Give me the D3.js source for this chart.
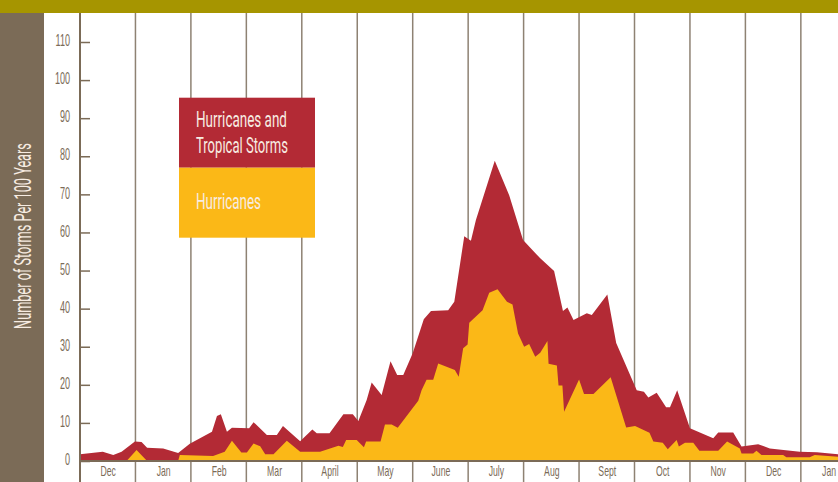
<!DOCTYPE html>
<html>
<head>
<meta charset="utf-8">
<script src="https://cdn.jsdelivr.net/npm/d3@7/dist/d3.min.js"></script>
<style>
  body { margin: 0; background: #fff; }
  svg { display: block; font-family: Roboto, "Liberation Sans", sans-serif; }
</style>
</head>
<body>
<svg id="chart" width="838" height="482"></svg>
<script>
// month labels along the bottom, one per column
var months = ["Dec", "Jan", "Feb", "Mar", "April", "May", "June", "July", "Aug", "Sept", "Oct", "Nov", "Dec", "Jan"];
var yTicks = [0, 10, 20, 30, 40, 50, 60, 70, 80, 90, 100, 110];

// position in months from the start of Dec, storms per 100 years
var allMonth = [0, 0.41, 0.60, 0.75, 0.99, 1.11, 1.21, 1.50, 1.77, 1.98, 2.38, 2.47, 2.54, 2.65, 2.74,
  3.05, 3.13, 3.37, 3.55, 3.66, 3.97, 4.19, 4.27, 4.50, 4.75, 4.92, 5.02, 5.17, 5.26, 5.44,
  5.60, 5.72, 5.83, 6.00, 6.20, 6.33, 6.64, 6.75, 6.93, 7.05, 7.14, 7.48, 7.74, 7.99, 8.30,
  8.55, 8.71, 8.79, 8.90, 9.14, 9.23, 9.51, 9.67, 10.04, 10.17, 10.25, 10.40, 10.57, 10.64,
  10.77, 11.00, 11.42, 11.51, 11.78, 11.93, 12.23, 12.44, 12.98, 13.29, 13.67, 14];
var allCount = [1.8, 2.4, 1.6, 2.4, 5.1, 5.0, 3.5, 3.3, 2.1, 4.5, 7.7, 11.8, 12.3, 7.7, 8.7,
  8.6, 10.2, 6.8, 6.8, 9.2, 5.2, 8.3, 7.3, 7.3, 12.3, 12.3, 10.5, 16, 20.6, 17.3,
  26.2, 22.6, 22.6, 28.3, 37.2, 39.4, 39.6, 41.8, 59.0, 57.8, 63.3, 78.8, 69.8, 58.0, 53.2,
  49.9, 39.4, 40.3, 37.0, 38.8, 38.3, 43.7, 31.0, 18.6, 18.2, 16.7, 17.9, 14.1, 14.1,
  18.6, 8.6, 6.0, 7.5, 7.5, 3.8, 4.4, 3.3, 2.4, 2.3, 1.8, 1.6];

var hurMonth = [0, 0.84, 1.02, 1.21, 1.77, 1.80, 2.40, 2.61, 2.74, 2.91, 3.01, 3.13, 3.25, 3.34,
  3.49, 3.73, 3.97, 4.33, 4.66, 4.74, 4.80, 4.99, 5.12, 5.16, 5.42, 5.50, 5.62, 5.73, 6.10,
  6.16, 6.25, 6.37, 6.46, 6.76, 6.83, 6.91, 6.99, 7.02, 7.26, 7.38, 7.53, 7.70, 7.80, 7.90,
  8.01, 8.10, 8.21, 8.30, 8.43, 8.45, 8.60, 8.63, 8.70, 8.73, 9.00, 9.09, 9.26, 9.57, 9.85,
  10.01, 10.27, 10.34, 10.51, 10.60, 10.76, 10.80, 10.91, 11.06, 11.17, 11.51, 11.67, 11.90,
  11.93, 12.14, 12.20, 12.29, 12.68, 12.74, 13.16, 13.25, 13.67, 14];
var hurCount = [0, 0, 2.9, 0, 0, 1.6, 1.3, 2.4, 5.3, 2.2, 2.2, 4.6, 3.9, 1.8,
  1.8, 5.3, 2.4, 2.4, 4.0, 3.7, 5.5, 5.5, 3.6, 5.1, 5.1, 9.6, 9.6, 8.7, 15.8,
  18.6, 21.3, 21.3, 25.6, 23.9, 22.1, 29.6, 30.6, 36.3, 39.6, 44.2, 45.1, 41.8, 41.1, 33.5,
  30.0, 30.7, 27.4, 28.4, 31.5, 25.5, 25.1, 19.8, 19.8, 12.9, 21.4, 17.6, 17.6, 22.0, 8.8,
  9.2, 7.4, 5.1, 4.8, 3.1, 5.5, 3.8, 4.8, 4.8, 2.7, 2.7, 5.1, 3.3,
  2.0, 2.0, 2.7, 1.6, 1.6, 1.0, 1.0, 1.6, 1.1, 1.0];

var seriesNames = [["Hurricanes and", "Tropical Storms"], ["Hurricanes"]];
var yTitle = "Number of Storms Per 100 Years";

var W = 838, H = 482,
    bandH = 13, left = 80,
    brown = "#7b6b57", olive = "#a69500", red = "#b32a35", gold = "#fbb817",
    grid = "#8e8273", cream = "#f7ece2";

var svg = d3.select("#chart");

var x = d3.scaleLinear().domain([0, 14]).range([left, left + 14 * 55.45]),
    y = d3.scaleLinear().domain([0, 110]).range([461, 42]);

var allData = d3.zip(allMonth, allCount),
    hurData = d3.zip(hurMonth, hurCount);

// squeeze a text horizontally to a given width (the original face is very condensed)
function narrow(sel, width) {
  var w = sel.node().getComputedTextLength();
  var t = sel.attr("transform") || "";
  sel.attr("transform", t + "scale(" + (width / w) + ",1)");
}

// frame
svg.append("rect").attr("width", W).attr("height", H).attr("fill", "#fff");
svg.append("rect").attr("x", 0).attr("y", bandH).attr("width", 44).attr("height", H - bandH).attr("fill", brown);

// month gridlines, behind the areas
svg.append("g")
  .selectAll("line")
    .data(d3.range(1, 14))
  .enter().append("line")
    .attr("x1", function(d) { return x(d); })
    .attr("x2", function(d) { return x(d); })
    .attr("y1", bandH)
    .attr("y2", H)
    .attr("stroke", grid)
    .attr("stroke-width", 1.5);

var area = d3.area()
    .x(function(d) { return x(d[0]); })
    .y0(y(0))
    .y1(function(d) { return y(d[1]); });

svg.append("path").datum(allData).attr("fill", red).attr("d", area);
svg.append("path").datum(hurData).attr("fill", gold).attr("d", area);

// y axis: ticks point into the plot
var yAxis = svg.append("g")
    .attr("transform", "translate(" + left + ",0)")
    .call(d3.axisLeft(y).tickValues(yTicks).tickSizeInner(-10).tickSizeOuter(0).tickPadding(10));
yAxis.select(".domain").remove();
yAxis.selectAll("line").attr("stroke", brown).attr("stroke-width", 1.5);
yAxis.selectAll("text")
    .attr("fill", brown)
    .attr("font-size", 16.5)
    .attr("dy", "0.22em")
    .attr("x", -10 / 0.55)
    .attr("transform", "scale(0.55,1)");

// x axis: month names centred in each column, kept just inside the bottom edge
var xAxis = svg.append("g")
    .attr("transform", "translate(0," + y(0) + ")")
    .call(d3.axisBottom(x)
      .tickValues(months.map(function(m, i) { return i + 0.5; }))
      .tickFormat(function(d) { return months[Math.floor(d)]; })
      .tickSize(0).tickPadding(5.5));
xAxis.select(".domain").remove();
xAxis.selectAll("text")
    .attr("fill", brown)
    .attr("font-size", 14)
    .attr("transform", "scale(0.62,1)");

svg.append("line")
    .attr("x1", left).attr("x2", W).attr("y1", y(0)).attr("y2", y(0))
    .attr("stroke", brown).attr("stroke-width", 2);
svg.append("line")
    .attr("x1", left).attr("x2", left).attr("y1", bandH).attr("y2", H)
    .attr("stroke", brown).attr("stroke-width", 2);

// legend
var legend = svg.append("g");
legend.append("rect").attr("x", 179).attr("y", 97.7).attr("width", 136).attr("height", 70).attr("fill", red);
legend.append("rect").attr("x", 179).attr("y", 167.7).attr("width", 136).attr("height", 70).attr("fill", gold);

[[seriesNames[0][0], 126.7, 91], [seriesNames[0][1], 153.3, 92], [seriesNames[1][0], 209, 65]]
  .forEach(function(l) {
    legend.append("text")
        .attr("transform", "translate(196," + l[1] + ")")
        .attr("font-size", 22)
        .attr("fill", cream)
        .text(l[0])
        .call(narrow, l[2]);
  });

// y title in the brown band
svg.append("text")
    .attr("transform", "translate(31,236)rotate(-90)")
    .attr("text-anchor", "middle")
    .attr("font-size", 24)
    .attr("fill", cream)
    .text(yTitle)
    .call(narrow, 186);

// olive title band across the top
svg.append("rect").attr("x", 0).attr("y", 0).attr("width", W).attr("height", bandH).attr("fill", olive);
</script>
</body>
</html>
